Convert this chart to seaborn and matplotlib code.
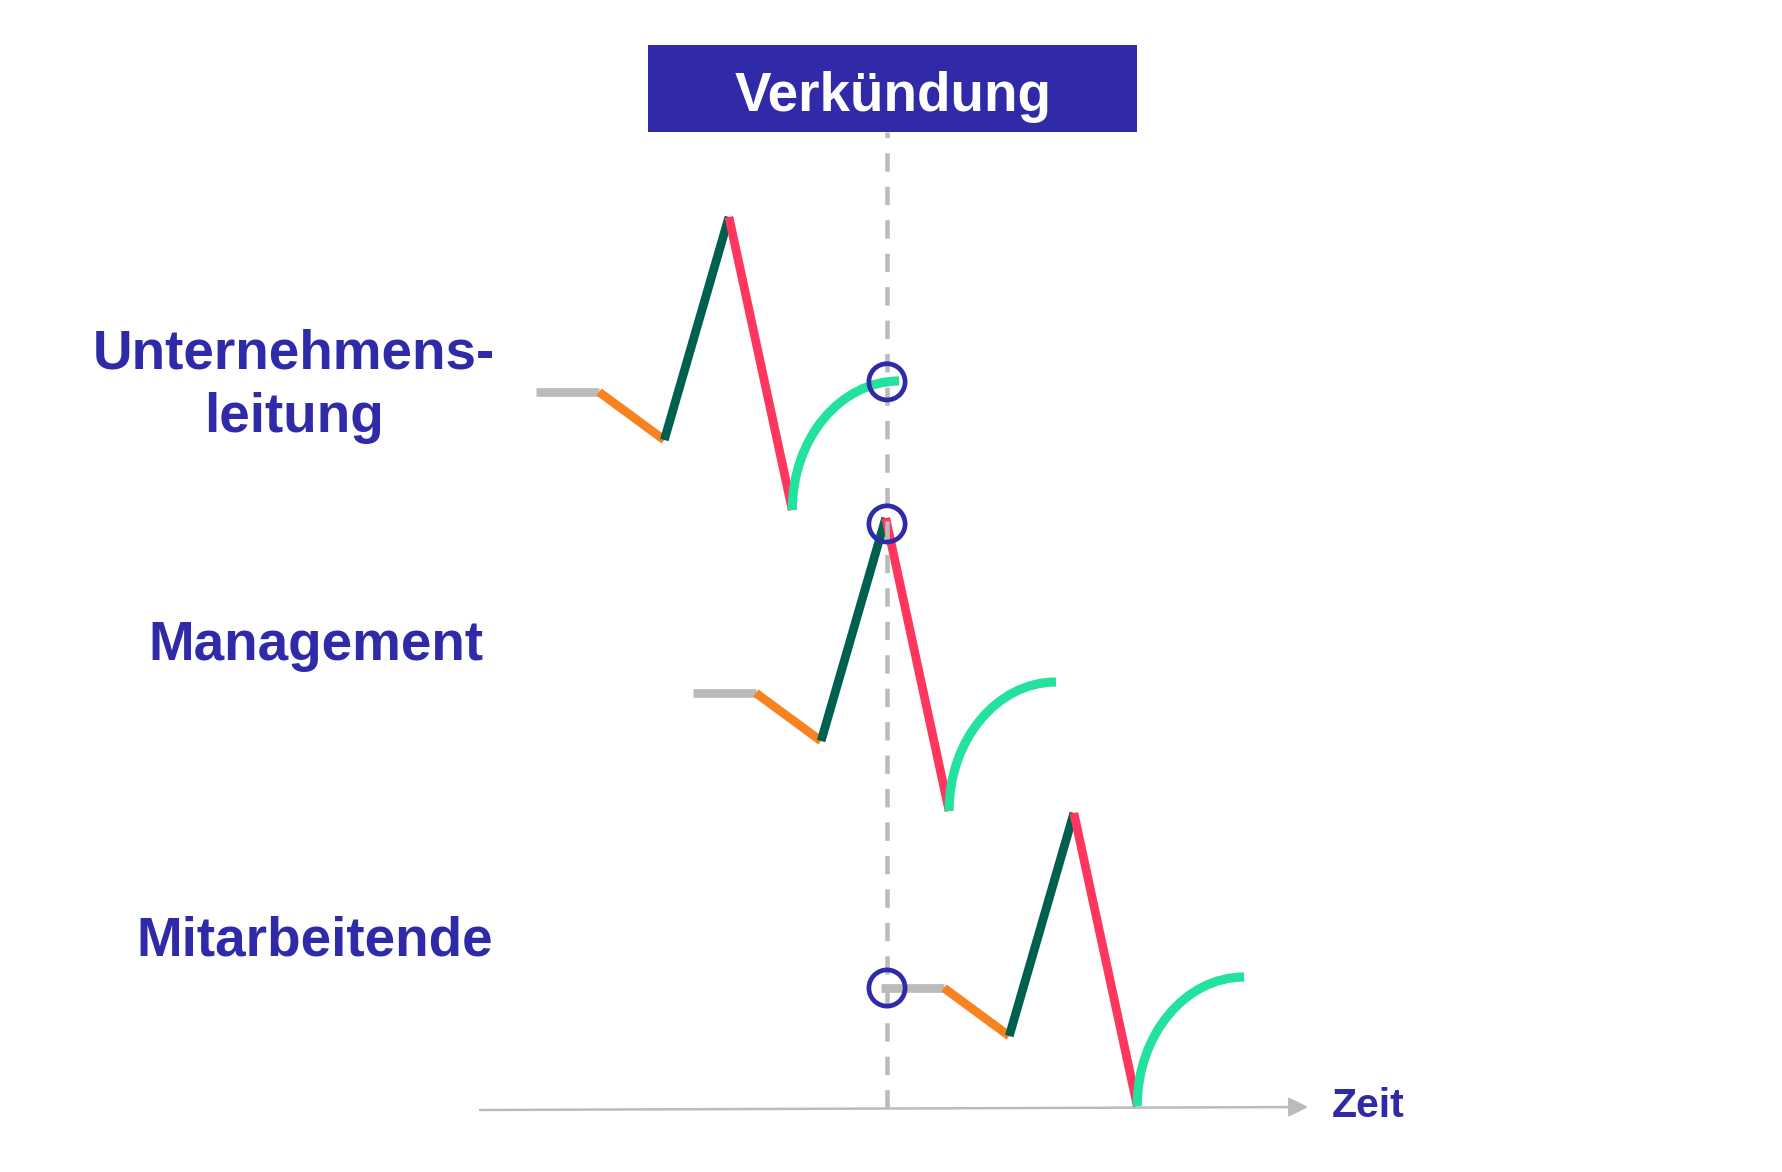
import numpy as np
import pandas as pd
import matplotlib
matplotlib.use("Agg")
import matplotlib.pyplot as plt
import seaborn as sns
from matplotlib.path import Path
from matplotlib.patches import PathPatch, Rectangle
from matplotlib.bezier import BezierSegment

# ---------------- data ----------------
groups = ["Unternehmensleitung", "Management", "Mitarbeitende"]
group_labels = [["Unternehmens-", "leitung"], ["Management"], ["Mitarbeitende"]]
group_start_time = [-5.48, -3.03, -0.09]
group_base_level = [14.32, 8.30, 2.40]

phases = ["Ausgangslage", "Schock", "Euphorie", "Ernüchterung", "Akzeptanz"]
phase_time = [0.0, 0.98, 2.0, 3.01, 4.0, 5.67]      # break points, relative to group start
phase_level = [0.0, 0.0, -0.96, 3.5, -2.36, 0.22]   # relative to group base level
phase_colors = ["#BBBBBB", "#F98220", "#00604F", "#FF365E", "#22E29E"]

announcement_time = 0.0
announcement_label = "Verkündung"
axis_label = "Zeit"
axis_time = [-6.36, 6.58]
axis_level = [-0.04, 0.02]

# ---------------- style ----------------
sns.set_theme(style="white")
plt.rcParams["font.family"] = ["Liberation Sans", "DejaVu Sans"]
BLUE = "#2F2AA8"
GRAY = "#BBBBBB"

fig = plt.figure(figsize=(17.82, 11.72), dpi=100)
ax = fig.add_axes([0, 0, 1, 1])
ax.set_xlim(-887 / 64, (1782 - 887) / 64)
ax.set_ylim((1108 - 1172) / 50, 1108 / 50)
ax.axis("off")

# straight phases via seaborn
rows = []
for g, t0, l0 in zip(groups, group_start_time, group_base_level):
    for i, ph in enumerate(phases[:4]):
        for j in (i, i + 1):
            rows.append(dict(group=g, phase=ph, seg=f"{g}-{ph}",
                             t=t0 + phase_time[j], level=l0 + phase_level[j]))
df = pd.DataFrame(rows)
sns.lineplot(data=df, x="t", y="level", hue="phase", hue_order=phases[:4],
             palette=dict(zip(phases[:4], phase_colors[:4])), units="seg",
             estimator=None, sort=False, linewidth=6.3, legend=False, ax=ax,
             solid_capstyle="butt", zorder=3)

# curved recovery phase (quarter-arc Bezier)
k = 0.5523
circle_t, circle_l = [], []
for g, t0, l0 in zip(groups, group_start_time, group_base_level):
    x0, y0 = t0 + phase_time[4], l0 + phase_level[4]
    x1, y1 = t0 + phase_time[5], l0 + phase_level[5]
    w, h = x1 - x0, y1 - y0
    cps = np.array([[x0, y0], [x0, y0 + k * h], [x1 - k * w, y1], [x1, y1]])
    path = Path(cps, [Path.MOVETO, Path.CURVE4, Path.CURVE4, Path.CURVE4])
    ax.add_patch(PathPatch(path, fill=False, edgecolor=phase_colors[4], lw=6.6,
                           capstyle="butt", zorder=3))
    # locate where the curve is at the announcement time
    bez = np.asarray(BezierSegment(cps)(np.linspace(0, 1, 400)))
    pts_t = np.concatenate([[t0 + p for p in phase_time[:5]], bez[:, 0]])
    pts_l = np.concatenate([[l0 + p for p in phase_level[:5]], bez[:, 1]])
    circle_t.append(announcement_time)
    circle_l.append(float(np.interp(announcement_time, pts_t, pts_l)))

# time axis with arrow
ax.annotate("", xy=(axis_time[1], axis_level[1]), xytext=(axis_time[0], axis_level[0]),
            arrowprops=dict(arrowstyle="-|>", color=GRAY, lw=1.8, mutation_scale=29,
                            shrinkA=0, shrinkB=0), zorder=2)
ax.text((1332 - 887) / 64, (1108 - 1117) / 50, axis_label, color=BLUE,
        fontsize=29.5, fontweight="bold", ha="left", va="baseline")

# announcement box and dashed line
box_bottom = (1108 - 132) / 50
box_top = (1108 - 45) / 50
ax.vlines(announcement_time, 0.0, box_bottom, colors=GRAY, lw=3.3,
          linestyles=[(0, (4.0, 3.3))], zorder=4)
ax.add_patch(Rectangle(((648 - 887) / 64, box_bottom), (1137 - 648) / 64,
                       box_top - box_bottom, color="#3029A8", zorder=5, lw=0))
ax.text((893 - 887) / 64, (1108 - 111) / 50, announcement_label, color="white",
        fontsize=39.5, fontweight="bold", ha="center", va="baseline", zorder=6)

# circles marking the announcement moment
sns.scatterplot(x=circle_t, y=circle_l, s=680, marker="o", facecolor="none",
                edgecolor=BLUE, linewidth=3.4, ax=ax, zorder=6, legend=False)

# group labels
label_pos = [(294, [368, 432]), (316, [660]), (315, [955])]
for lines, (px, pys) in zip(group_labels, label_pos):
    for line, py in zip(lines, pys):
        ax.text((px - 887) / 64, (1108 - py) / 50, line, color=BLUE, fontsize=39.5,
                fontweight="bold", ha="center", va="baseline")

fig.savefig("out.png", dpi=100, facecolor="white")
